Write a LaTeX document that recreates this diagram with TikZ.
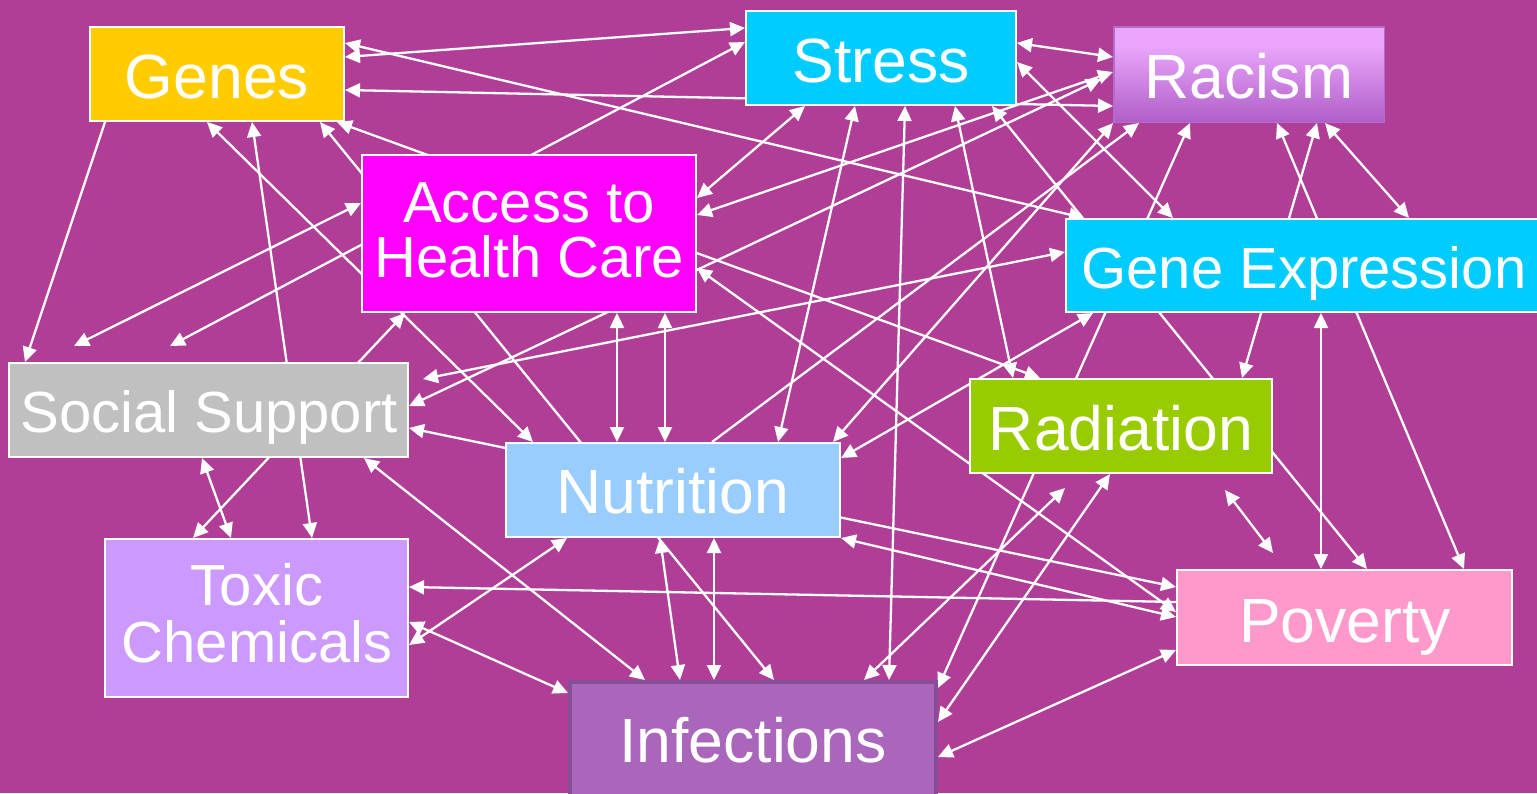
\documentclass[tikz,border=0pt]{standalone}
\usepackage{fontspec}
\setmainfont{Liberation Sans}
\usetikzlibrary{arrows.meta}
\definecolor{bgc}{HTML}{B03E97}
\definecolor{cgenes}{HTML}{FFCC00}
\definecolor{ccyan}{HTML}{00CCFF}
\definecolor{caccess}{HTML}{FF00FF}
\definecolor{csocial}{HTML}{C0C0C0}
\definecolor{crad}{HTML}{99CC00}
\definecolor{cnut}{HTML}{99CCFF}
\definecolor{ctox}{HTML}{CC99FF}
\definecolor{cpov}{HTML}{FF99CC}
\definecolor{cinf}{HTML}{AA66BB}
\definecolor{cinfb}{HTML}{874D98}
\definecolor{racT}{HTML}{E9A6FB}
\definecolor{racB}{HTML}{A855C1}
\definecolor{racD}{HTML}{B46BCC}
\pgfdeclareverticalshading{racshade}{100bp}{color(0bp)=(racB); color(20bp)=(racB); color(65bp)=(racT); color(100bp)=(racT)}
\pgfdeclarelayer{bglayer}
\pgfdeclarelayer{linelayer}
\pgfsetlayers{bglayer,linelayer,main}
\tikzset{
  box/.style={rectangle, draw=white, line width=2pt, inner sep=0pt},
  lbl/.style={anchor=base, inner sep=0pt, text=white, font=\fontsize{62.5}{70}\selectfont},
  lblm/.style={anchor=base, inner sep=0pt, text=white, font=\fontsize{58}{64}\selectfont},
  conn/.style={draw=white, line width=2.3pt},
  dbl/.style={conn, arrows={Triangle[length=15pt,width=14pt]-Triangle[length=15pt,width=14pt]}},
  sgl/.style={conn, arrows={-Triangle[length=15pt,width=14pt]}}
}
\begin{document}
\begin{tikzpicture}[x=1pt,y=-1pt]
\useasboundingbox (0,0) rectangle (1537,793);
\begin{pgfonlayer}{bglayer}
\fill[bgc] (0,0) rectangle (1537,793);
\end{pgfonlayer}

% boxes
\node[box, fill=cgenes, minimum width=254pt, minimum height=94pt] (genes) at (217,74) {};
\node[box, fill=ccyan, minimum width=270pt, minimum height=94pt] (stress) at (881,58) {};
\node[rectangle, inner sep=0pt, shade, shading=racshade, draw=racD, line width=1.5pt, minimum width=270.5pt, minimum height=95.5pt] (racism) at (1249,74.5) {};
\node[box, fill=caccess, minimum width=334pt, minimum height=157pt] (access) at (529,233.5) {};
\node[box, fill=ccyan, minimum width=478pt, minimum height=93pt] (gexp) at (1305,265.5) {};
\node[box, fill=csocial, minimum width=399pt, minimum height=94pt] (social) at (208.5,410) {};
\node[box, fill=crad, minimum width=302pt, minimum height=94pt] (radiation) at (1121,426) {};
\node[box, fill=cnut, minimum width=334pt, minimum height=94pt] (nutrition) at (673,490) {};
\node[box, fill=ctox, minimum width=303pt, minimum height=158pt] (toxic) at (256.5,618) {};
\node[box, fill=cpov, minimum width=335pt, minimum height=95pt] (poverty) at (1344.5,617.5) {};
\node[rectangle, inner sep=0pt, fill=cinf, draw=cinfb, line width=4pt, minimum width=366pt, minimum height=126pt] (infect) at (753,745) {};

% labels
\node[lbl] (genesT) at (217,98) {Genes};
\node[lbl] (stressT) at (881,82) {Stress};
\node[lbl] (racismT) at (1249,98) {Racism};
\node[lblm] (accessT1) at (529,222) {Access to};
\node[lblm] (accessT2) at (529,277) {Health Care};
\node[lblm] (gexpT) at (1304,288) {Gene Expression};
\node[lblm] (socialT) at (209,432) {Social Support};
\node[lbl] (radiationT) at (1121,450) {Radiation};
\node[lbl] (nutritionT) at (673,513) {Nutrition};
\node[lblm] (toxicT1) at (257,605) {Toxic};
\node[lblm] (toxicT2) at (257,662) {Chemicals};
\node[lbl] (povertyT) at (1345,642) {Poverty};
\node[lbl] (infectT) at (753,762) {Infections};

% free ends
\coordinate (f1) at (74,346);
\coordinate (f2) at (170,346);
\coordinate (f3) at (1101,79);
\coordinate (f4) at (423,379);
\coordinate (f5) at (1065,488);
\coordinate (f6) at (1225,490);
\coordinate (f7) at (1273,553);

\begin{pgfonlayer}{linelayer}
\draw[dbl] (genes.east |- 0,43) -- (1084,0 |- gexp.north);
\draw[dbl] (genes.east |- 0,57) -- (stress.west |- 0,28);
\draw[dbl] (genes.east |- 0,90) -- (racism.west |- 0,106);
\draw[dbl] (207,0 |- genes.south) -- (533,0 |- nutrition.north);
\draw[dbl] (252,0 |- genes.south) -- (312,0 |- toxic.north);
\draw[dbl] (320,0 |- genes.south) -- (774,0 |- infect.north);
\draw[dbl] (337,0 |- genes.south) -- (1040,0 |- radiation.north);
\draw[sgl] (105,0 |- genes.south) -- (25,0 |- social.north);
\draw[dbl] (access.west |- 0,203) -- (f1);
\draw[dbl] (stress.west |- 0,42) -- (f2);
\draw[dbl] (805,0 |- stress.south) -- (access.east |- 0,198);
\draw[dbl] (855,0 |- stress.south) -- (778,0 |- nutrition.north);
\draw[dbl] (905,0 |- stress.south) -- (889,0 |- infect.north);
\draw[dbl] (955,0 |- stress.south) -- (1013,0 |- radiation.north);
\draw[dbl] (992,0 |- stress.south) -- (1367,0 |- poverty.north);
\draw[dbl] (stress.east |- 0,43) -- (racism.west |- 0,57);
\draw[dbl] (stress.east |- 0,62) -- (1173,0 |- gexp.north);
\draw[dbl] (racism.west |- 0,72) -- (access.east |- 0,215);
\draw[dbl] (f3) -- (social.east |- 0,406);
\draw[dbl] (racism.south west) -- (833,0 |- nutrition.north);
\draw[sgl] (712,0 |- nutrition.north) -- (1139,0 |- racism.south);
\draw[dbl] (1190,0 |- racism.south) -- (infect.east |- 0,688);
\draw[dbl] (1277,0 |- racism.south) -- (1464,0 |- poverty.north);
\draw[dbl] (1317,0 |- racism.south) -- (1242,0 |- radiation.north);
\draw[dbl] (1325,0 |- racism.south) -- (1409,0 |- gexp.north);
\draw[dbl] (access.east |- 0,268) -- (poverty.west |- 0,612);
\draw[dbl] (617,0 |- access.south) -- (617,0 |- nutrition.north);
\draw[dbl] (665,0 |- access.south) -- (665,0 |- nutrition.north);
\draw[dbl] (193,0 |- toxic.north) -- (405,0 |- access.south);
\draw[dbl] (gexp.west |- 0,252) -- (f4);
\draw[dbl] (social.east |- 0,428) -- (poverty.west |- 0,587);
\draw[dbl] (nutrition.east |- 0,458) -- (1093,0 |- gexp.south);
\draw[dbl] (nutrition.south east) -- (poverty.west |- 0,617);
\draw[dbl] (660,0 |- nutrition.south) -- (680,0 |- infect.north);
\draw[dbl] (714,0 |- nutrition.south) -- (714,0 |- infect.north);
\draw[dbl] (toxic.east |- 0,645) -- (567,0 |- nutrition.south);
\draw[dbl] (toxic.east |- 0,622) -- (infect.west |- 0,693);
\draw[sgl] (poverty.west |- 0,602) -- (toxic.east |- 0,587);
\draw[dbl] (364,0 |- social.south) -- (645,0 |- infect.north);
\draw[dbl] (202,0 |- social.south) -- (231,0 |- toxic.north);
\draw[dbl] (864,0 |- infect.north) -- (f5);
\draw[dbl] (infect.east |- 0,722) -- (1110,0 |- radiation.south);
\draw[dbl] (infect.east |- 0,757) -- (poverty.west |- 0,650);
\draw[dbl] (1321,0 |- gexp.south) -- (1321,0 |- poverty.north);
\draw[dbl] (f6) -- (f7);
\end{pgfonlayer}
\end{tikzpicture}
\end{document}
